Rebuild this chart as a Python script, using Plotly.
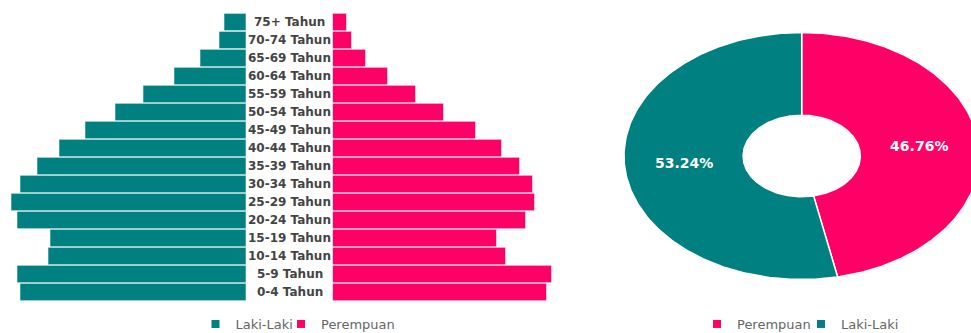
import numpy as np
import plotly.graph_objects as go

# ---------------- data ----------------
age_groups = ["0-4 Tahun", "5-9 Tahun", "10-14 Tahun", "15-19 Tahun", "20-24 Tahun",
              "25-29 Tahun", "30-34 Tahun", "35-39 Tahun", "40-44 Tahun", "45-49 Tahun",
              "50-54 Tahun", "55-59 Tahun", "60-64 Tahun", "65-69 Tahun", "70-74 Tahun",
              "75+ Tahun"]
laki_laki = [226, 229, 198, 196, 229, 235, 226, 209, 187, 161, 131, 103, 72, 46, 27, 22]
perempuan = [214, 219, 173, 164, 193, 202, 200, 187, 169, 143, 111, 83, 55, 33, 19, 14]

donut_labels = ["Perempuan", "Laki-Laki"]
donut_values = [46.76, 53.24]

TEAL = "#008080"
PINK = "#FF0066"
FONT = "DejaVu Sans"

W, H = 971, 333
fig = go.Figure()

# ---------------- population pyramid ----------------
bar_line = dict(color="rgba(255,255,255,0.55)", width=1)
fig.add_trace(go.Bar(y=age_groups, x=laki_laki, orientation="h", name="Laki-Laki",
                     marker=dict(color=TEAL, line=bar_line), xaxis="x", yaxis="y",
                     showlegend=False))
fig.add_trace(go.Bar(y=age_groups, x=perempuan, orientation="h", name="Perempuan",
                     marker=dict(color=PINK, line=bar_line), xaxis="x2", yaxis="y",
                     showlegend=False))

for g in age_groups:
    fig.add_annotation(x=289.5 / W, xref="paper", y=g, yref="y", text=g, showarrow=False,
                       xanchor="center", yanchor="middle",
                       font=dict(family=FONT, size=12, color="#444444", weight="bold"))

# ---------------- donut (elliptical, drawn on its own axes) ----------------
hole = 0.33
total = sum(donut_values)
colors = {"Perempuan": PINK, "Laki-Laki": TEAL}
start = 0.0
for lab, val in zip(donut_labels, donut_values):
    frac = val / total
    a0, a1 = start * 2 * np.pi, (start + frac) * 2 * np.pi
    t = np.linspace(a0, a1, 200)
    xs = np.concatenate([np.sin(t), hole * np.sin(t[::-1])])
    ys = np.concatenate([np.cos(t), hole * np.cos(t[::-1])])
    xs = np.append(xs, xs[0]); ys = np.append(ys, ys[0])
    fig.add_trace(go.Scatter(x=xs, y=ys, mode="lines", fill="toself", fillcolor=colors[lab],
                             line=dict(color="white", width=1.5), name=lab,
                             xaxis="x3", yaxis="y3", showlegend=False, hoverinfo="skip"))
    am = (a0 + a1) / 2
    rm = (1 + hole) / 2
    fig.add_trace(go.Scatter(x=[rm * np.sin(am)], y=[rm * np.cos(am)], mode="text",
                             text=[f"{val:.2f}%"],
                             textfont=dict(family=FONT, size=14, color="white", weight="bold"),
                             xaxis="x3", yaxis="y3", showlegend=False, hoverinfo="skip"))
    start += frac

# ---------------- legends (one legend box per entry for tight spacing) ----------------
legend_entries = [("Laki-Laki", TEAL, "legend", 195.5),
                  ("Perempuan", PINK, "legend2", 281),
                  ("Perempuan", PINK, "legend3", 697),
                  ("Laki-Laki", TEAL, "legend4", 801)]
for lab, col, lg, _ in legend_entries:
    fig.add_trace(go.Scatter(x=[None], y=[None], mode="markers", name=lab,
                             marker=dict(symbol="square", size=8, color=col),
                             xaxis="x3", yaxis="y3", legend=lg))

# ---------------- layout ----------------
hidden = dict(showgrid=False, zeroline=False, showticklabels=False, ticks="", showline=False)
cx, cy, rx, ry = 801.7, 156.0, 177.7, 123.5
x3_left = 600.0
legend_style = dict(orientation="h", yanchor="middle", xanchor="left", y=1 - 324 / H,
                    font=dict(family=FONT, size=13, color="#666666"), itemwidth=30,
                    bgcolor="rgba(0,0,0,0)")
legends = {lg: dict(x=xpos / W, **legend_style) for _, _, lg, xpos in legend_entries}
fig.update_layout(
    width=W, height=H, margin=dict(l=0, r=0, t=0, b=0, autoexpand=False),
    paper_bgcolor="white", plot_bgcolor="white",
    bargap=0.04, hovermode=False,
    xaxis=dict(domain=[0, 246 / W], range=[246, 0], anchor="y", fixedrange=True, **hidden),
    xaxis2=dict(domain=[332.5 / W, (332.5 + 246) / W], range=[0, 246], anchor="y",
                fixedrange=True, **hidden),
    yaxis=dict(domain=[1 - 301 / H, 1 - 13 / H], type="category", categoryorder="array",
               categoryarray=age_groups, anchor="x", fixedrange=True, **hidden),
    xaxis3=dict(domain=[x3_left / W, 1], range=[(x3_left - cx) / rx, (W - cx) / rx],
                anchor="y3", fixedrange=True, **hidden),
    yaxis3=dict(domain=[0, 1], range=[-(H - cy) / ry, cy / ry], anchor="x3",
                fixedrange=True, **hidden),
    showlegend=True,
    **legends,
)

fig.write_html("out.html")
